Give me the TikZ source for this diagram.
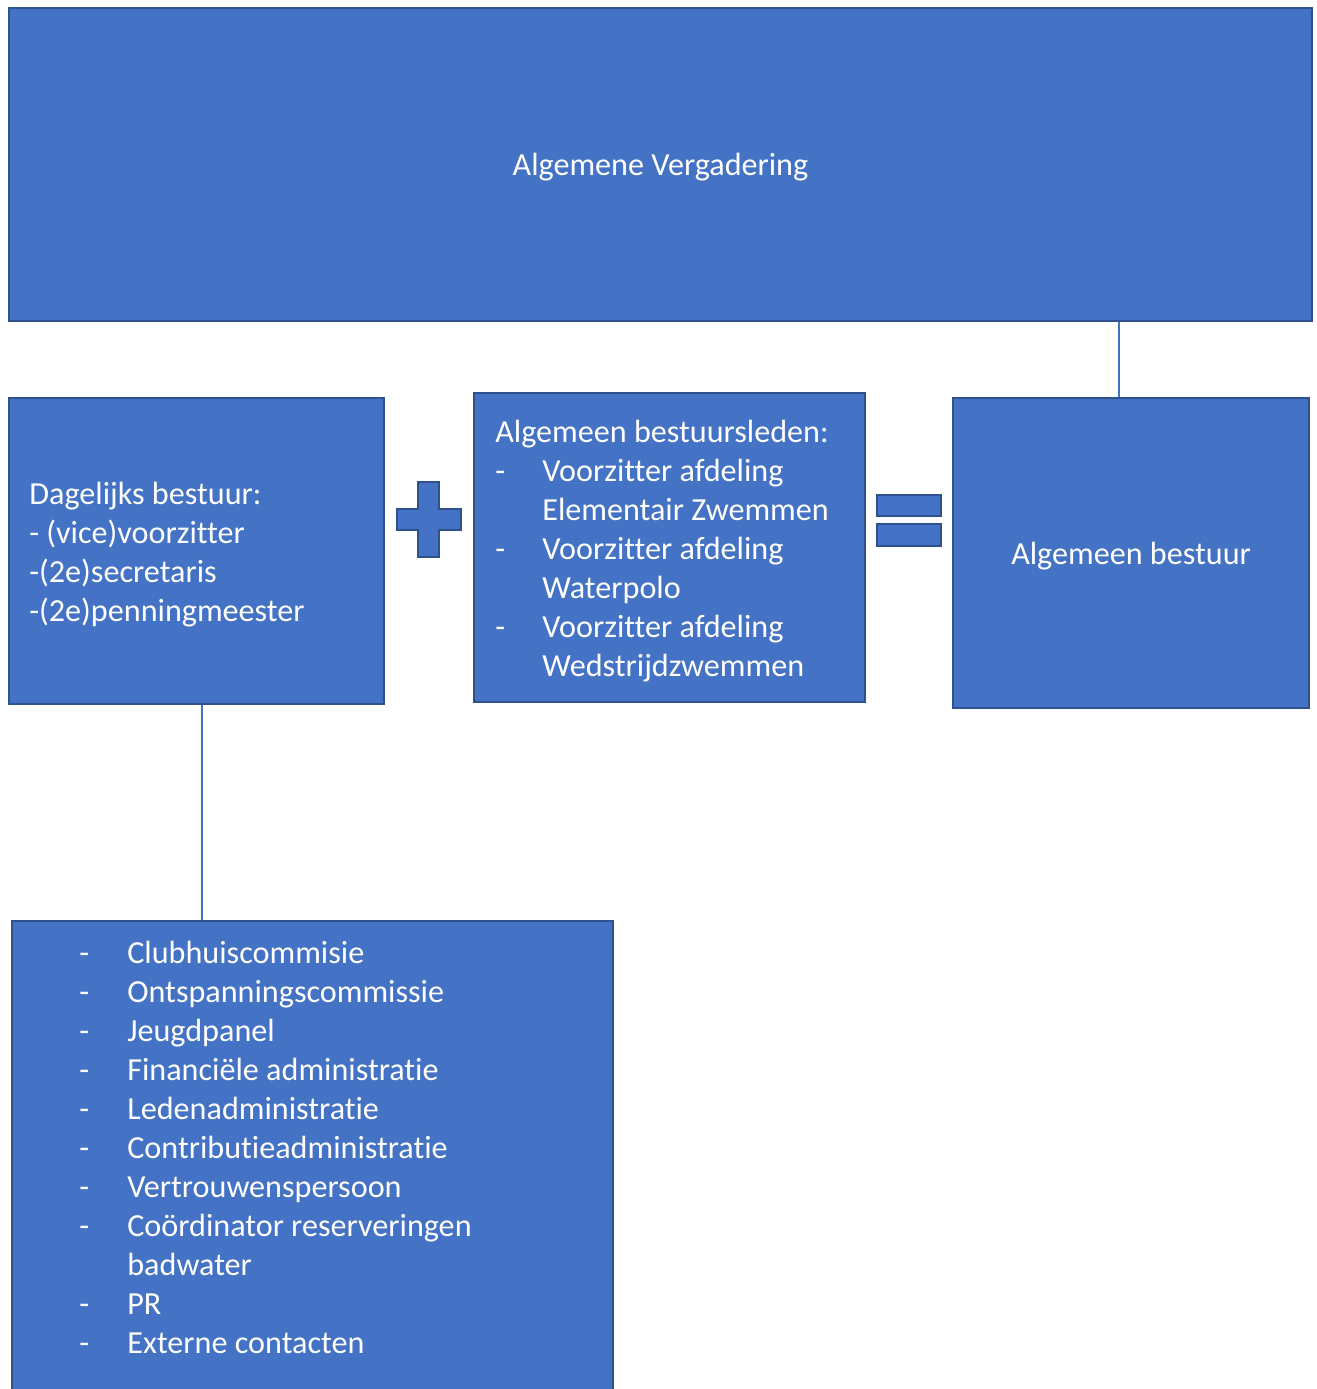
\documentclass[tikz,border=0pt]{standalone}
\usepackage{fontspec}
\setmainfont{Carlito}[Ligatures=NoCommon]
\usepackage{array}
\usetikzlibrary{calc,positioning}
\definecolor{vlak}{HTML}{4472C4}
\definecolor{rand}{HTML}{2F528F}
\tikzstyle{blok}  =[rectangle, draw=rand, fill=vlak, line width=1.2pt,
                    inner sep=0pt, anchor=north west]
\tikzstyle{tekst} =[text=white, inner sep=0pt, anchor=base west,
                    font=\fontsize{18.3}{22.2}\selectfont]
\tikzstyle{teken} =[draw=rand, fill=vlak, line width=1.2pt]
\tikzstyle{lijn}  =[draw=vlak, line width=0.8pt]

\begin{document}
\begin{tikzpicture}[x=0.02cm, y=-0.02cm]
                \useasboundingbox (0,0) rectangle (1317,1389);
                \clip (0,0) rectangle (1317,1389);

                \node[blok, minimum width=26.06cm, minimum height=6.26cm] (vergadering) at (8,7) {};
                \node[blok, minimum width=7.5cm, minimum height=6.12cm] (dagelijks) at (8,397) {};
                \node[blok, minimum width=7.82cm, minimum height=6.18cm] (leden) at (473,392) {};
                \node[blok, minimum width=7.12cm, minimum height=6.2cm] (bestuur) at (952,397) {};
                \node[blok, minimum width=12.02cm, minimum height=10cm] (commissies) at (11,920) {};

                \node[tekst, anchor=base] (vergaderingtekst) at ($(vergadering.north)+(0,168)$)
                        {Algemene Vergadering};
                \node[tekst] (dagelijkstekst) at ($(dagelijks.north west)+(21,107)$)
                        {\begin{tabular}[t]{@{}l@{}}
                         Dagelijks bestuur:\\
                         - (vice)voorzitter\\
                         -(2e)secretaris\\
                         -(2e)penningmeester
                         \end{tabular}};
                \node[tekst] (ledentekst) at ($(leden.north west)+(22,50)$)
                        {\begin{tabular}[t]{@{}p{0.94cm}@{}l@{}}
                         \multicolumn{2}{@{}l@{}}{Algemeen bestuursleden:}\\
                         - & Voorzitter afdeling\\
                           & Elementair Zwemmen\\
                         - & Voorzitter afdeling\\
                           & Waterpolo\\
                         - & Voorzitter afdeling\\
                           & Wedstrijdzwemmen
                         \end{tabular}};
                \node[tekst, anchor=base] (bestuurtekst) at ($(bestuur.north)+(0,167)$)
                        {Algemeen bestuur};
                \node[tekst] (lijst) at ($(commissies.north west)+(68,43)$)
                        {\begin{tabular}[t]{@{}p{0.96cm}@{}l@{}}
                         - & Clubhuiscommisie\\
                         - & Ontspanningscommissie\\
                         - & Jeugdpanel\\
                         - & Financiële administratie\\
                         - & Ledenadministratie\\
                         - & Contributieadministratie\\
                         - & Vertrouwenspersoon\\
                         - & Coördinator reserveringen\\
                           & badwater\\
                         - & PR\\
                         - & Externe contacten
                         \end{tabular}};

                % plus en is
                \draw[teken] (418,482) -- (439,482) -- (439,509) -- (461,509)
                        -- (461,530) -- (439,530) -- (439,557) -- (418,557)
                        -- (418,530) -- (397,530) -- (397,509) -- (418,509) -- cycle;
                \draw[teken] (877,495) rectangle (941,516);
                \draw[teken] (877,524) rectangle (941,546);

                \coordinate (boven) at (1119,397);
                \coordinate (onder) at (202,920);
                \draw[lijn] (boven) to (boven |- vergadering.south);
                \draw[lijn] (onder) to (onder |- dagelijks.south);
        \end{tikzpicture}
\end{document}
